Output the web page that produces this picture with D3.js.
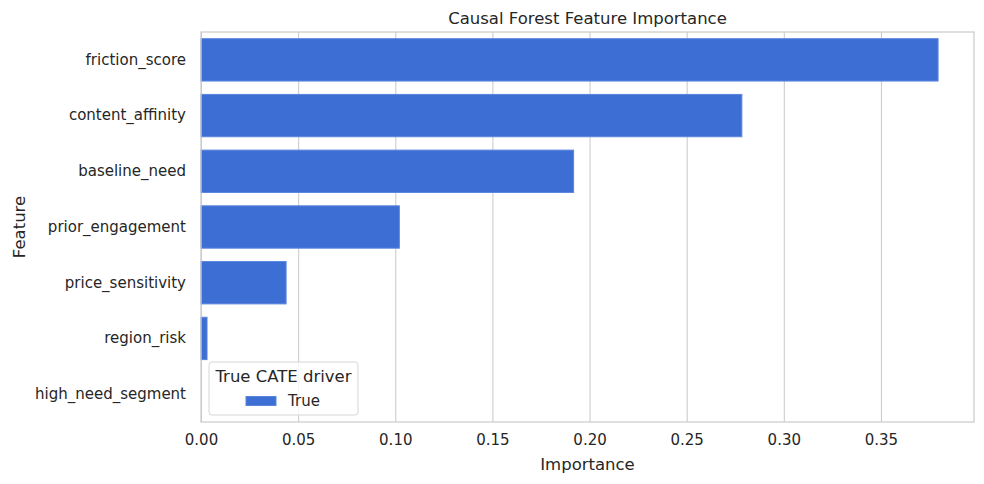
<!DOCTYPE html>
<html>
<head>
<script src="https://d3js.org/d3.v7.min.js"></script>
<style>
  body { margin: 0; background: #fff; font-family: "DejaVu Sans", sans-serif; }
  text { fill: #262626; }
  .grid line { stroke: #cccccc; stroke-width: 1.1; }
  .grid path { display: none; }
</style>
</head>
<body>
<script>
// data
var features = ["friction_score", "content_affinity", "baseline_need", "prior_engagement",
                "price_sensitivity", "region_risk", "high_need_segment"];
var importance = [0.3794, 0.2784, 0.1918, 0.1021, 0.0438, 0.0031, 0.0];
var xTicks = [0, 0.05, 0.10, 0.15, 0.20, 0.25, 0.30, 0.35];

var W = 984, H = 484;
var margin = {top: 32, right: 10, bottom: 62, left: 201};
var width = 974 - margin.left, height = 422 - margin.top;

var svg = d3.select("body").append("svg")
    .attr("width", W).attr("height", H);
var g = svg.append("g").attr("transform", "translate(" + margin.left + "," + margin.top + ")");

var x = d3.scaleLinear().domain([0, 0.3979]).range([0, width]);
var y = d3.scaleBand().domain(features).range([0, height]).paddingInner(0.24).paddingOuter(0.12);

// grid
g.append("g").attr("class", "grid")
    .attr("transform", "translate(0," + height + ")")
    .call(d3.axisBottom(x).tickValues(xTicks).tickSize(-height).tickFormat(""));

// bars
g.selectAll(".bar").data(features).enter().append("rect")
    .attr("x", x(0))
    .attr("y", function(d) { return y(d); })
    .attr("width", function(d, i) { return x(importance[i]) - x(0); })
    .attr("height", y.bandwidth())
    .attr("fill", "#3d6ed4")
    .attr("stroke", "#5a85dd")
    .attr("stroke-width", 1);

// frame
g.append("rect").attr("width", width).attr("height", height)
    .attr("fill", "none").attr("stroke", "#cccccc").attr("stroke-width", 1.25);

// x tick labels
var xa = g.append("g").attr("transform", "translate(0," + height + ")")
    .call(d3.axisBottom(x).tickValues(xTicks).tickSize(0).tickPadding(12).tickFormat(d3.format(".2f")));
xa.select(".domain").remove();
xa.selectAll("text").style("font-size", "15px").style("font-family", "DejaVu Sans").attr("fill", "#262626");

// y tick labels
var ya = g.append("g")
    .call(d3.axisLeft(y).tickSize(0).tickPadding(15));
ya.select(".domain").remove();
ya.selectAll("text").style("font-size", "15px").style("font-family", "DejaVu Sans").attr("fill", "#262626");

// title & axis labels
svg.append("text").attr("x", margin.left + width / 2).attr("y", 24)
    .attr("text-anchor", "middle").style("font-size", "16.5px").text("Causal Forest Feature Importance");
svg.append("text").attr("x", margin.left + width / 2).attr("y", 470)
    .attr("text-anchor", "middle").style("font-size", "16.5px").text("Importance");
svg.append("text").attr("transform", "translate(25," + (margin.top + height / 2) + ") rotate(-90)")
    .attr("text-anchor", "middle").style("font-size", "16.5px").text("Feature");

// legend
var lg = svg.append("g").attr("transform", "translate(209,362)");
lg.append("rect").attr("width", 149).attr("height", 53).attr("rx", 3)
    .attr("fill", "#fff").attr("fill-opacity", 0.8).attr("stroke", "#d6d6d6");
lg.append("text").attr("x", 74.5).attr("y", 20).attr("text-anchor", "middle")
    .style("font-size", "16.5px").text("True CATE driver");
lg.append("rect").attr("x", 37).attr("y", 34.5).attr("width", 30).attr("height", 9)
    .attr("fill", "#3d6ed4").attr("stroke", "#5a85dd");
lg.append("text").attr("x", 79).attr("y", 44).style("font-size", "15px").text("True");
</script>
</body>
</html>
